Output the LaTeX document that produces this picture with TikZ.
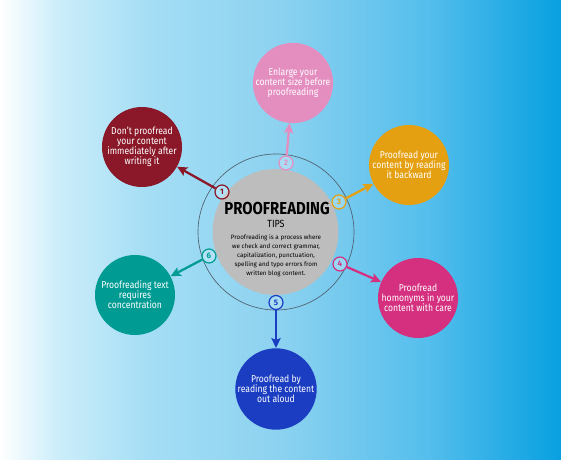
\documentclass[tikz,border=0pt]{standalone}
\usepackage{fontspec}
\setmainfont{Fira Sans}
\newfontfamily\circfont[FakeStretch=0.86]{Fira Sans}
\newfontfamily\headfont[FakeStretch=0.86]{Fira Sans}
\usetikzlibrary{arrows.meta}
\definecolor{bgA}{RGB}{205,238,250}
\definecolor{bgB}{RGB}{165,222,245}
\definecolor{bgC}{RGB}{140,210,240}
\definecolor{bgD}{RGB}{85,190,236}
\definecolor{bgE}{RGB}{8,160,225}
\definecolor{cRed}{RGB}{138,24,40}
\definecolor{cPink}{RGB}{228,142,192}
\definecolor{cOrange}{RGB}{229,160,18}
\definecolor{cMagenta}{RGB}{213,48,127}
\definecolor{cBlue}{RGB}{26,61,194}
\definecolor{cTeal}{RGB}{0,156,148}
\definecolor{cGray}{RGB}{189,189,189}
\definecolor{cRing}{RGB}{80,96,110}
\pgfdeclarehorizontalshading{bgshade}{100bp}{color(0bp)=(white); color(25bp)=(white); color(30bp)=(bgA); color(38bp)=(bgB); color(50bp)=(bgC); color(63bp)=(bgD); color(75bp)=(bgE); color(100bp)=(bgE)}
\begin{document}
\begin{tikzpicture}[x=0.75pt,y=-0.75pt,
  bub/.style={circle, minimum size=60pt, inner sep=0pt, align=center, text=white,
    font=\circfont\fontsize{7.5}{7.6}\selectfont},
  badge/.style={circle, draw=#1, text=#1, line width=0.9pt, minimum size=10.5pt, inner sep=0pt,
    fill=white, fill opacity=0.25, text opacity=1, font=\bfseries\fontsize{6}{6}\selectfont},
  arr/.style={draw=#1, line width=1.7pt, -{Stealth[length=7.5pt,width=7pt,inset=1.5pt]}}
]
\useasboundingbox (0,0) rectangle (561,460);
\shade[shading=bgshade] (0,0) rectangle (561,460);

\node[circle, draw=cRing, line width=0.5pt, minimum size=117pt, inner sep=0pt] (ring) at (276,232) {};
\node[circle, fill=cGray, minimum size=94.5pt, inner sep=0pt] (core) at (275.5,232) {};
\node[font=\headfont\bfseries\fontsize{13}{14}\selectfont] (title) at (277,208) {PROOFREADING};
\node[font=\headfont\fontsize{7.8}{9}\selectfont] (tips) at (276,224) {TIPS};
\node[align=center, font=\fontsize{4.7}{6.75}\selectfont] (desc) at (276,255.7)
  {Proofreading is a process where\\we check and correct grammar,\\capitalization, punctuation,\\spelling and typo errors from\\written blog content.};

\node[bub, fill=cRed] (c1) at (142,147) {Don’t proofread\\your content\\immediately after\\writing it};
\node[bub, fill=cPink] (c2) at (293,83) {Enlarge your\\content size before\\proofreading};
\node[bub, fill=cOrange] (c3) at (409,165) {Proofread your\\content by reading\\it backward};
\node[bub, fill=cMagenta] (c4) at (418,298) {Proofread\\homonyms in your\\content with care};
\node[bub, fill=cBlue] (c5) at (276,389) {Proofread by\\reading the content\\out aloud};
\node[bub, fill=cTeal] (c6) at (135,295) {Proofreading text\\requires\\concentration};

\node[badge=cRed] (b1) at (222,192) {1};
\node[badge=cPink] (b2) at (286,163) {2};
\node[badge=cOrange] (b3) at (339,202) {3};
\node[badge=cMagenta] (b4) at (340,264) {4};
\node[badge=cBlue] (b5) at (276,302.5) {5};
\node[badge=cTeal] (b6) at (209,256) {6};

\draw[arr=cRed] (b1) -- (c1);
\draw[arr=cPink] (b2) -- (c2);
\draw[arr=cOrange] (b3) -- (c3);
\draw[arr=cMagenta] (b4) -- (c4);
\draw[arr=cBlue] (b5) -- (c5);
\draw[arr=cTeal] (b6) -- (c6);
\end{tikzpicture}
\end{document}
